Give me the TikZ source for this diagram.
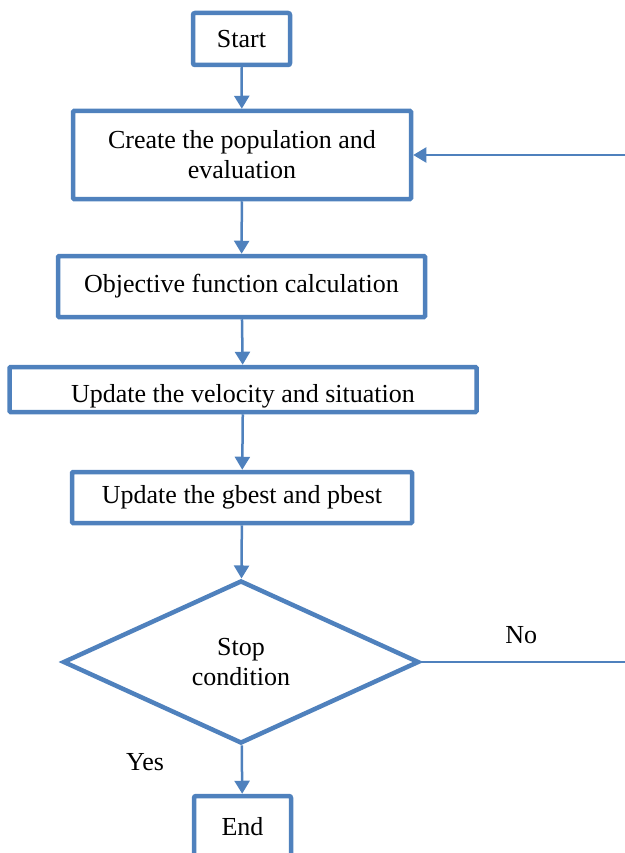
\documentclass[tikz,border=0pt]{standalone}
\usepackage{fontspec}
\setmainfont{Liberation Serif}
\usepackage{tikz}
\usepackage{xcolor}
\usetikzlibrary{shapes.geometric, arrows.meta, positioning, calc}
\definecolor{cLine}{RGB}{79,129,189}
\tikzset{
    startstop/.style={rectangle, rounded corners=2pt, minimum width=97pt, minimum height=52pt, text centered, align=center, draw=cLine, line width=4.5pt, fill=white, inner sep=0pt},
    process/.style  ={rectangle, rounded corners=1pt, text centered, align=center, draw=cLine, line width=4.5pt, fill=white, inner sep=0pt},
    decision/.style ={diamond, aspect=2.17, minimum width=356pt, minimum height=163pt, text centered, align=center, draw=cLine, line width=4.5pt, fill=white, inner sep=0pt},
    flowarrow/.style={-{Triangle[width=15pt,length=13pt]}, draw=cLine, line width=2.5pt},
    flowline/.style ={draw=cLine, line width=2.5pt},
}

\begin{document}
\begin{tikzpicture}[x=1pt, y=-1pt, font=\fontsize{26}{30}\selectfont]
                \useasboundingbox (0,0) rectangle (624,853);
                \node[startstop] (start) at (241.5,39) {Start};
                \node[process, minimum width=338pt, minimum height=88pt] (create) at (242,155) {Create the population and\\evaluation};
                \node[process, minimum width=467pt, minimum height=45pt, text height=25pt, text depth=0pt] (vel) at (243,389.5) {Update the velocity and situation};
                \node[process, minimum width=367pt, minimum height=61pt] (obj) at (241.5,286.5) {Objective function calculation};
                \node[process, minimum width=340pt, minimum height=51pt] (best) at (242,497.5) {Update the gbest and pbest};
                \node[decision] (stop) at (241,662) {Stop\\condition};
                \node[startstop, minimum height=62pt] (end) at (242.5,827) {End};
                \coordinate (back) at (634,662);
                \node (yes) at (145,762) {Yes};
                \draw[flowarrow](start)--(create);
                \draw[flowarrow](create)--(obj);
                \draw[flowarrow](obj)--(vel);
                \draw[flowarrow](vel)--(best);
                \draw[flowarrow](best)--(stop);
                \draw[flowarrow](stop)--(end);
                \draw[flowline, line width=2pt](stop.east)-- node[pos=0.47, above=14pt, text=black]{No}(back);
                \draw[flowarrow, line width=2pt](back)|-(create.east);
            \end{tikzpicture}
\end{document}
